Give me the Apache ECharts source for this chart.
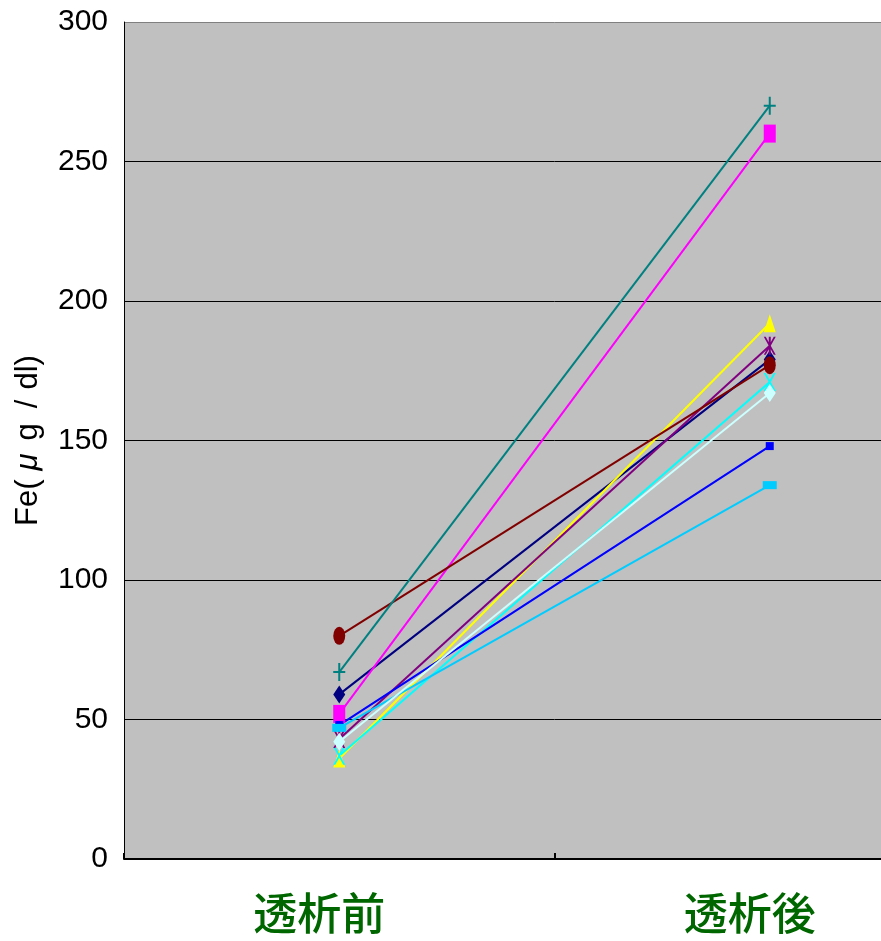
<!DOCTYPE html>
<html>
<head>
<meta charset="utf-8">
<script src="https://cdn.jsdelivr.net/npm/echarts@6/dist/echarts.min.js"></script>
<style>
  html, body { margin: 0; padding: 0; background: #ffffff; overflow: hidden; }
  #wrap { width: 881px; height: 941px; overflow: hidden; }
  /* the plot area continues past the right edge of the page */
  #chart { width: 985px; height: 941px; }
</style>
</head>
<body>
<div id="wrap"><div id="chart"></div></div>
<script>
// Serum iron before / after dialysis, one line per patient
const categories = ['透析前', '透析後'];
const yTicks = [0, 50, 100, 150, 200, 250, 300];

const navy      = [59, 179];
const magenta   = [52, 260];
const yellow    = [36, 192];
const cyan      = [37, 171];
const purple    = [43, 184];
const darkRed   = [80, 177];
const teal      = [67, 270];
const blue      = [48, 148];
const sky       = [47, 134];
const lightCyan = [42, 167];

// marker shapes
const PLUS = 'path://M5,0H7V8H12V10H7V18H5V10H0V8H5Z';
const CROSS = 'path://M0,0L2,0L6,7L10,0L12,0L7,9L12,18L10,18L6,11L2,18L0,18L5,9Z';
const STAR = 'path://M0,0L2,0L5,5.5V0H7V5.5L10,0L12,0L7,9L12,18L10,18L7,12.5V18H5V12.5L2,18L0,18L5,9Z';

function line(name, data, color, symbol, size) {
  return {
    name: name,
    type: 'line',
    data: data,
    symbol: symbol,
    symbolSize: size,
    showSymbol: true,
    lineStyle: { color: color, width: 2 },
    itemStyle: { color: color, borderWidth: 0 },
    emphasis: { disabled: true },
    animation: false
  };
}

const chart = echarts.init(document.getElementById('chart'), null, { renderer: 'canvas' });
chart.setOption({
  animation: false,
  grid: {
    left: 124, top: 22, right: 0, bottom: 82,
    show: true, backgroundColor: '#C0C0C0', borderWidth: 0
  },
  xAxis: {
    type: 'category',
    data: categories,
    boundaryGap: true,
    axisLine: { lineStyle: { color: '#000', width: 2 } },
    axisTick: { show: true, inside: true, length: 6, lineStyle: { color: '#000', width: 2 } },
    axisLabel: {
      color: '#006600', fontSize: 44, fontWeight: 500, fontFamily: 'Noto Sans CJK JP',
      margin: 32, padding: [0, 40, 0, 0]
    },
    splitLine: { show: false }
  },
  yAxis: {
    type: 'value',
    min: yTicks[0], max: yTicks[yTicks.length - 1], interval: 50,
    name: '{a|Fe(}{m|μ}{g|g}{s|/}{a|dl)}',
    nameLocation: 'middle',
    nameRotate: 90,
    nameGap: 80,
    nameTextStyle: {
      color: '#000', fontSize: 31, fontFamily: 'Liberation Sans',
      rich: {
        a: { fontSize: 31, fontFamily: 'Liberation Sans', color: '#000' },
        m: { fontSize: 31, fontFamily: 'Liberation Sans', fontStyle: 'italic', color: '#000', padding: [0, 13, 0, 9] },
        g: { fontSize: 31, fontFamily: 'Liberation Sans', color: '#000', padding: [0, 15, 0, 0] },
        s: { fontSize: 31, fontFamily: 'Liberation Sans', color: '#000', padding: [0, 10, 0, 0] }
      }
    },
    axisLine: { show: true, lineStyle: { color: '#000', width: 1 } },
    axisTick: { show: false },
    axisLabel: {
      color: '#000', fontSize: 30, fontFamily: 'Liberation Sans', margin: 16
    },
    splitLine: {
      show: true,
      lineStyle: { color: ['#000', '#000', '#000', '#000', '#000', '#000', '#808080'], width: 1 }
    }
  },
  series: [
    line('1', navy, '#000080', 'diamond', [12, 18]),
    line('2', magenta, '#FF00FF', 'rect', [12, 18]),
    line('3', yellow, '#FFFF00', 'triangle', [12, 18]),
    line('4', cyan, '#00FFFF', CROSS, [12, 18]),
    line('5', purple, '#800080', STAR, [12, 18]),
    line('6', darkRed, '#800000', 'circle', [12, 18]),
    line('7', teal, '#008080', PLUS, [12, 18]),
    line('8', blue, '#0000FF', 'rect', [8, 8]),
    line('9', sky, '#00CCFF', 'rect', [14, 8]),
    line('10', lightCyan, '#CCFFFF', 'diamond', [12, 18])
  ]
});
</script>
</body>
</html>
